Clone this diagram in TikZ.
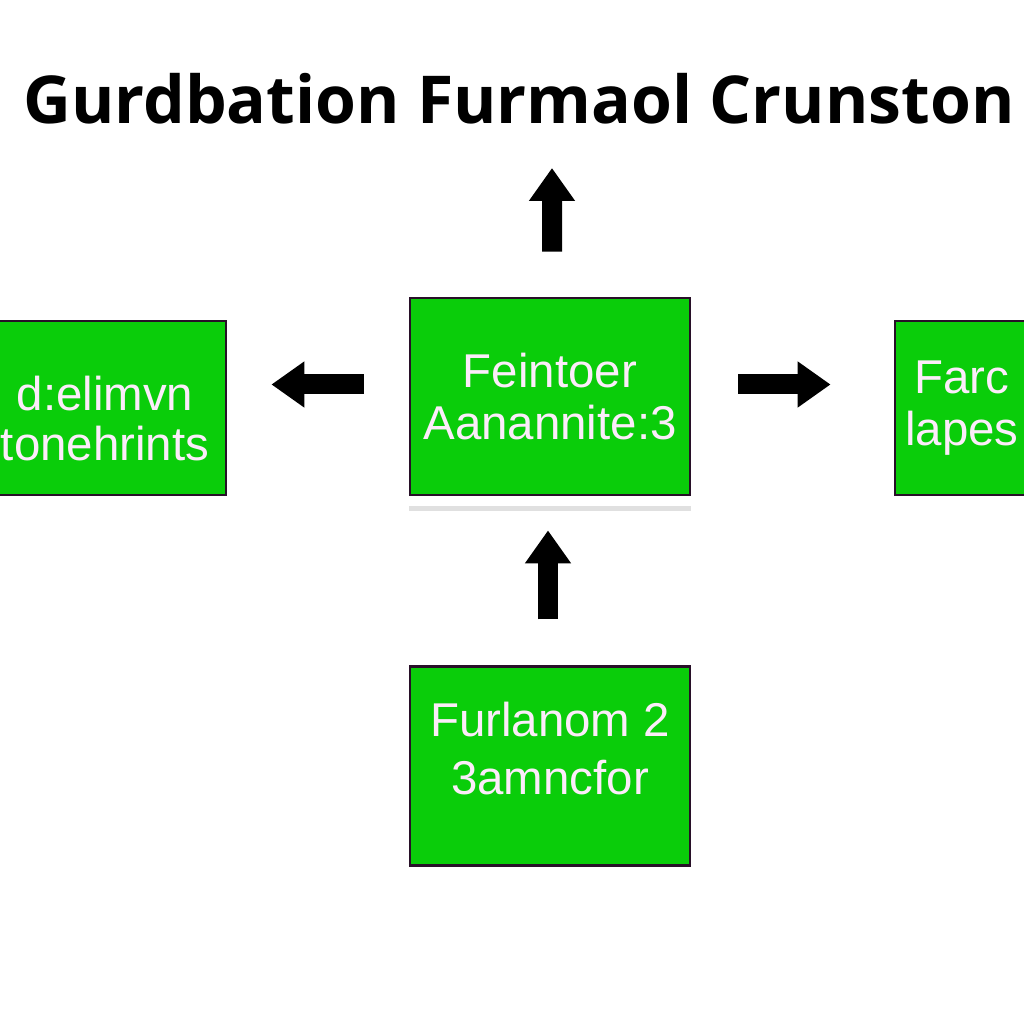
\documentclass[tikz,border=0pt]{standalone}
\usepackage{fontspec}
\usepackage{xcolor}
\usepackage{tikz}
\usetikzlibrary{positioning,arrows.meta}

\newfontfamily\titlefont{Open Sans}
\newfontfamily\boxfont{Liberation Sans}
\definecolor{boxgreen}{RGB}{10,205,10}
\definecolor{boxline}{RGB}{40,16,40}
\definecolor{boxtext}{RGB}{252,236,250}

\tikzset{
  greenbox/.style={draw=boxline, line width=0.8pt, fill=boxgreen, text=boxtext,
    align=center, inner sep=0pt, font=\boxfont\fontsize{13.5}{15}\selectfont},
  bigarrow/.style={draw=black, line width=0.2cm,
    -{Triangle[length=0.33cm, width=0.44cm]}}
}

\begin{document}
\begin{tikzpicture}
\useasboundingbox (0,0) rectangle (10.24,10.24);
\fill[white] (0,0) rectangle (10.24,10.24);

\node[anchor=base, font=\titlefont\bfseries\fontsize{18.8}{22}\selectfont](title) at (5.19,9.00) {Gurdbation Furmaol Crunston};
\coordinate(topend) at (5.52,8.56);

\node[greenbox, minimum width=2.80cm, minimum height=1.97cm](center) at (5.50,6.275) {Feintoer\\Aanannite:3};
\node[greenbox, minimum width=2.42cm, minimum height=1.74cm, text height=1.05cm](leftbox) at (1.05,6.16) {d:elimvn\\[-0.03cm]tonehrints};
\node[greenbox, minimum width=1.34cm, minimum height=1.74cm](rightbox) at (9.62,6.16) {Farc\\lapes};
\node[greenbox, minimum width=2.80cm, minimum height=1.99cm, text depth=0.36cm, below=1.69cm of center](bottom) {Furlanom 2\\[0.06cm]3amncfor};

% shadow under the middle box
\fill[black!12] ([yshift=-0.10cm]center.south west) rectangle ([yshift=-0.15cm]center.south east);

\draw[bigarrow, shorten <=0.45cm] ([xshift=0.02cm]center.north) -- (topend);
\draw[bigarrow, shorten <=0.45cm, shorten >=0.44cm] ([yshift=0.12cm]center.west) -- ([yshift=0.12cm]center.west -| leftbox.east);
\draw[bigarrow, shorten <=0.47cm, shorten >=0.63cm] ([yshift=0.12cm]center.east) -- ([yshift=0.12cm]center.east -| rightbox.west);
\draw[bigarrow, shorten <=0.46cm, shorten >=0.34cm] ([xshift=-0.02cm]bottom.north) -- ([xshift=-0.02cm]center.south);
\end{tikzpicture}
\end{document}
